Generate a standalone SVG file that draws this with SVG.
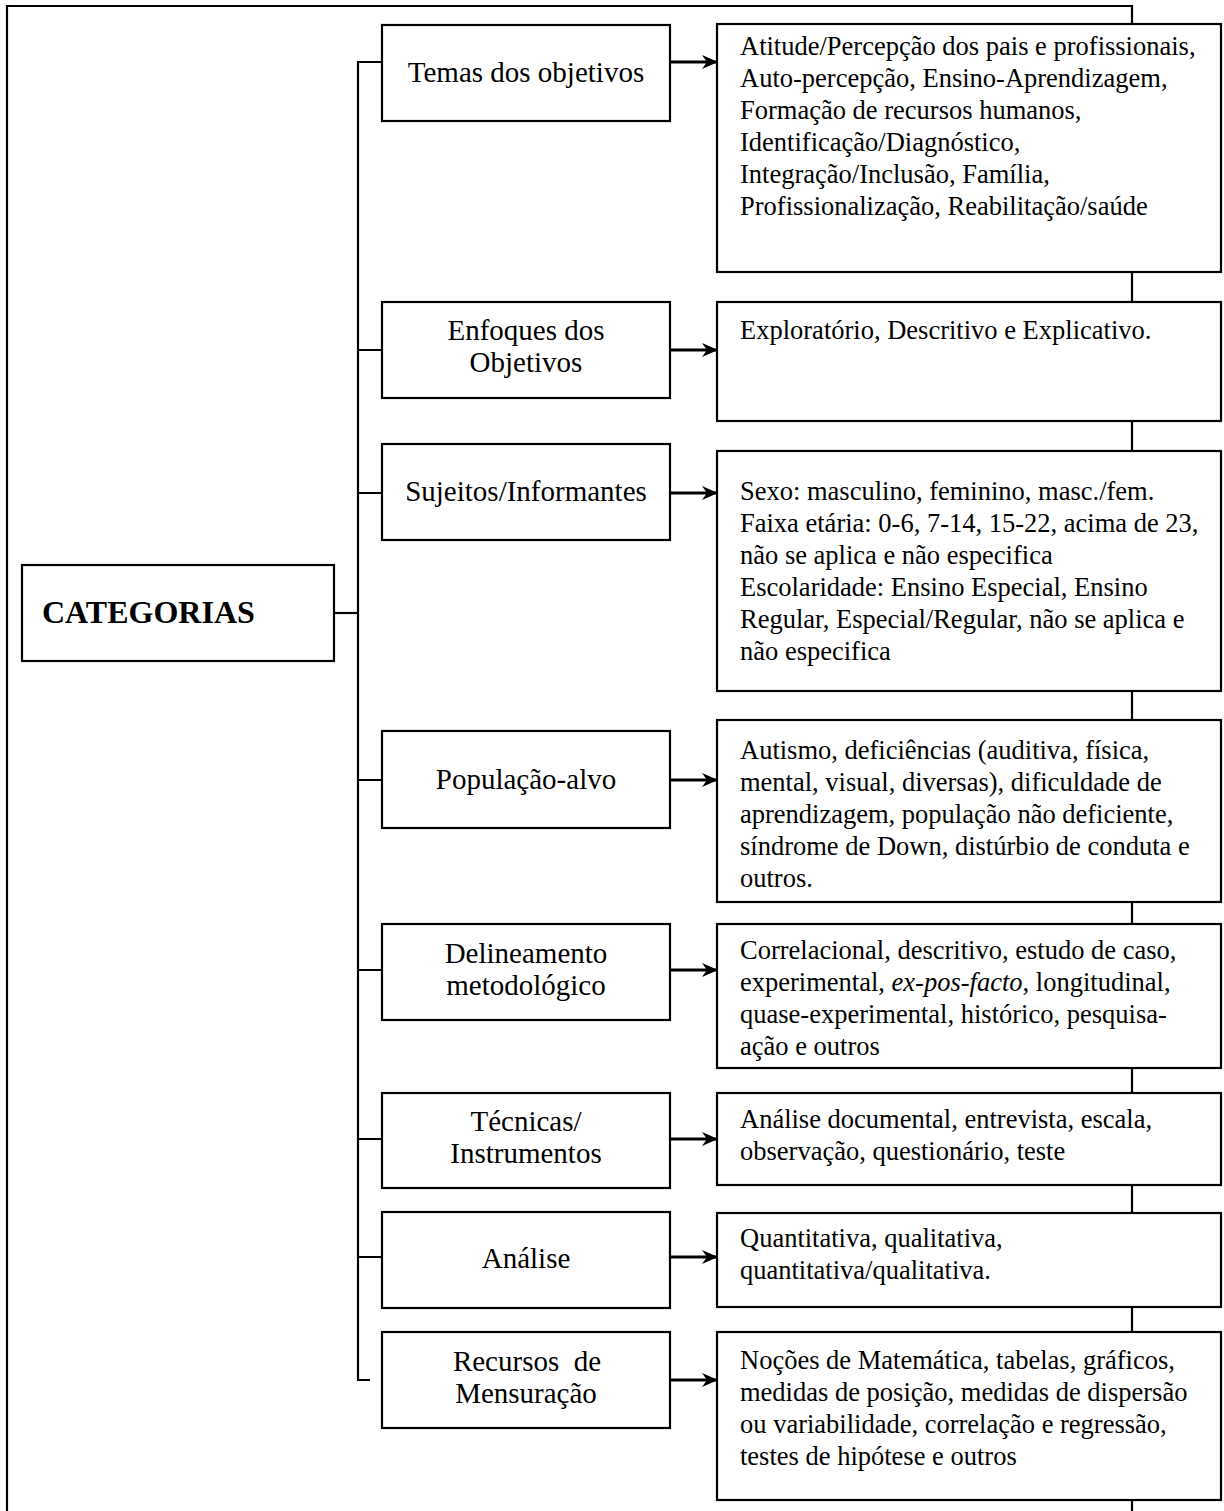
<svg xmlns="http://www.w3.org/2000/svg" width="1224" height="1511" viewBox="0 0 1224 1511">
<defs>
<marker id="ah" markerWidth="16" markerHeight="14" refX="15" refY="7" orient="auto" markerUnits="userSpaceOnUse">
<path d="M0,0 L16,7 L0,14 L5,7 Z" fill="#000"/>
</marker>
</defs>
<style>
.box{fill:#fff;stroke:#000;stroke-width:2.2}
.ln{fill:none;stroke:#000;stroke-width:2.2}
.arr{fill:none;stroke:#000;stroke-width:2.8;marker-end:url(#ah)}
.mid{font-family:"Liberation Serif","Times New Roman",serif;font-size:29px;text-anchor:middle;fill:#000}
.rt{font-family:"Liberation Serif","Times New Roman",serif;font-size:26.5px;fill:#000}
.cat{font-family:"Liberation Serif","Times New Roman",serif;font-size:32px;font-weight:bold;fill:#000}
</style>
<rect width="1224" height="1511" fill="#fff"/>
<g id="connectors">
<path class="ln" d="M7,1511 V6 H1132 V1511"/>
<path class="ln" d="M334,613 H358"/>
<path class="ln" d="M382,62 H358 V1380 H370"/>
<path class="ln" d="M358,350 H382 M358,493 H382 M358,780 H382 M358,970 H382 M358,1139 H382 M358,1257 H382"/>
<path class="arr" d="M670,62 H717"/>
<path class="arr" d="M670,350 H717"/>
<path class="arr" d="M670,493 H717"/>
<path class="arr" d="M670,780 H717"/>
<path class="arr" d="M670,970 H717"/>
<path class="arr" d="M670,1139 H717"/>
<path class="arr" d="M670,1257 H717"/>
<path class="arr" d="M670,1380 H717"/>
</g>
<g id="categorias">
<rect class="box" x="22" y="565" width="312" height="96"/>
<text class="cat" x="42" y="623">CATEGORIAS</text>
</g>
<g id="temas">
<rect class="box" x="382" y="25" width="288" height="96"/>
<text class="mid" x="526" y="82">Temas dos objetivos</text>
</g>
<g id="enfoques">
<rect class="box" x="382" y="302" width="288" height="96"/>
<text class="mid" x="526" y="340">Enfoques dos</text>
<text class="mid" x="526" y="372">Objetivos</text>
</g>
<g id="sujeitos">
<rect class="box" x="382" y="444" width="288" height="96"/>
<text class="mid" x="526" y="501">Sujeitos/Informantes</text>
</g>
<g id="populacao">
<rect class="box" x="382" y="731" width="288" height="97"/>
<text class="mid" x="526" y="789">População-alvo</text>
</g>
<g id="delineamento">
<rect class="box" x="382" y="924" width="288" height="96"/>
<text class="mid" x="526" y="963">Delineamento</text>
<text class="mid" x="526" y="995">metodológico</text>
</g>
<g id="tecnicas">
<rect class="box" x="382" y="1093" width="288" height="95"/>
<text class="mid" x="526" y="1131">Técnicas/</text>
<text class="mid" x="526" y="1163">Instrumentos</text>
</g>
<g id="analise">
<rect class="box" x="382" y="1212" width="288" height="96"/>
<text class="mid" x="526" y="1268">Análise</text>
</g>
<g id="recursos">
<rect class="box" x="382" y="1332" width="288" height="96"/>
<text class="mid" x="527" y="1371" xml:space="preserve">Recursos  de</text>
<text class="mid" x="526" y="1403">Mensuração</text>
</g>
<g id="temas-desc">
<rect class="box" x="717" y="24" width="504" height="248"/>
<text class="rt" x="740" y="55">Atitude/Percepção dos pais e profissionais,</text>
<text class="rt" x="740" y="87">Auto-percepção, Ensino-Aprendizagem,</text>
<text class="rt" x="740" y="119">Formação de recursos humanos,</text>
<text class="rt" x="740" y="151">Identificação/Diagnóstico,</text>
<text class="rt" x="740" y="183">Integração/Inclusão, Família,</text>
<text class="rt" x="740" y="215">Profissionalização, Reabilitação/saúde</text>
</g>
<g id="enfoques-desc">
<rect class="box" x="717" y="302" width="504" height="119"/>
<text class="rt" x="740" y="339">Exploratório, Descritivo e Explicativo.</text>
</g>
<g id="sujeitos-desc">
<rect class="box" x="717" y="451" width="504" height="240"/>
<text class="rt" x="740" y="500">Sexo: masculino, feminino, masc./fem.</text>
<text class="rt" x="740" y="532">Faixa etária: 0-6, 7-14, 15-22, acima de 23,</text>
<text class="rt" x="740" y="564">não se aplica e não especifica</text>
<text class="rt" x="740" y="596">Escolaridade: Ensino Especial, Ensino</text>
<text class="rt" x="740" y="628">Regular, Especial/Regular, não se aplica e</text>
<text class="rt" x="740" y="660">não especifica</text>
</g>
<g id="populacao-desc">
<rect class="box" x="717" y="720" width="504" height="182"/>
<text class="rt" x="740" y="759">Autismo, deficiências (auditiva, física,</text>
<text class="rt" x="740" y="791">mental, visual, diversas), dificuldade de</text>
<text class="rt" x="740" y="823">aprendizagem, população não deficiente,</text>
<text class="rt" x="740" y="855">síndrome de Down, distúrbio de conduta e</text>
<text class="rt" x="740" y="887">outros.</text>
</g>
<g id="delineamento-desc">
<rect class="box" x="717" y="924" width="504" height="144"/>
<text class="rt" x="740" y="959">Correlacional, descritivo, estudo de caso,</text>
<text class="rt" x="740" y="991">experimental, <tspan font-style="italic">ex-pos-facto</tspan>, longitudinal,</text>
<text class="rt" x="740" y="1023">quase-experimental, histórico, pesquisa-</text>
<text class="rt" x="740" y="1055">ação e outros</text>
</g>
<g id="tecnicas-desc">
<rect class="box" x="717" y="1093" width="504" height="92"/>
<text class="rt" x="740" y="1128">Análise documental, entrevista, escala,</text>
<text class="rt" x="740" y="1160">observação, questionário, teste</text>
</g>
<g id="analise-desc">
<rect class="box" x="717" y="1213" width="504" height="94"/>
<text class="rt" x="740" y="1247">Quantitativa, qualitativa,</text>
<text class="rt" x="740" y="1279">quantitativa/qualitativa.</text>
</g>
<g id="recursos-desc">
<rect class="box" x="717" y="1332" width="504" height="168"/>
<text class="rt" x="740" y="1369">Noções de Matemática, tabelas, gráficos,</text>
<text class="rt" x="740" y="1401">medidas de posição, medidas de dispersão</text>
<text class="rt" x="740" y="1433">ou variabilidade, correlação e regressão,</text>
<text class="rt" x="740" y="1465">testes de hipótese e outros</text>
</g>
</svg>
